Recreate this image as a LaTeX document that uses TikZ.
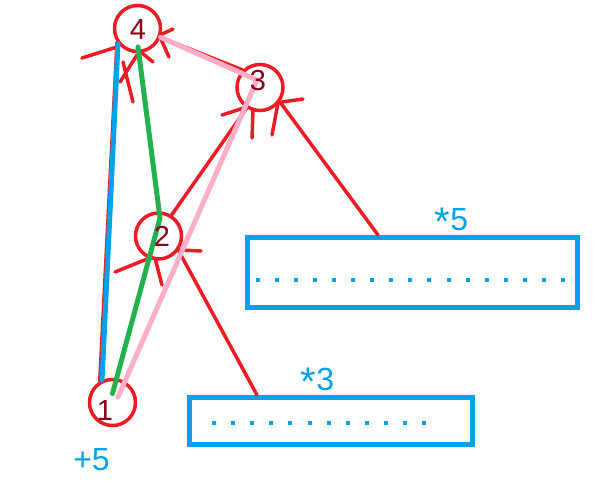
\documentclass[tikz,border=0pt]{standalone}
\usepackage{fontspec}
\setmainfont{Liberation Sans}
\usepackage{tikz}
\usetikzlibrary{positioning,calc}
\definecolor{paintred}{RGB}{237,28,36}
\definecolor{paintblue}{RGB}{0,162,232}
\definecolor{paintgreen}{RGB}{34,177,76}
\definecolor{paintpink}{RGB}{255,174,201}
\definecolor{paintmaroon}{RGB}{136,0,21}
\newcommand{\bigstar}{\raisebox{-5pt}{\fontsize{40}{40}\selectfont *}}

\begin{document}
\begin{tikzpicture}[x=1pt,y=-1pt,
    ball/.style={circle,draw=paintred,line width=3.5pt,minimum size=46pt,inner sep=0pt},
    num/.style={text=paintmaroon,font=\fontsize{29}{30}\selectfont,inner sep=0pt},
    tag/.style={text=paintblue,font=\fontsize{32}{34}\selectfont,inner sep=0pt},
    dotbox/.style={rectangle,draw=paintblue,line width=5pt,inner sep=0pt},
    link/.style={draw=paintred,line width=3.5pt,line cap=round},
    trail/.style={line width=5pt,line cap=round,line join=round},
    dotrow/.style={paintblue,line width=4pt,dash pattern=on 4pt off 15.1pt}]
    \useasboundingbox (0,0) rectangle (612,499);
    % circles and boxes
    \node[ball] (n4) at (137.5,28.5) {};
    \node[ball] (n3) at (260,87.5) {};
    \node[ball] (n2) at (158.5,236) {};
    \node[ball] (n1) at (112.5,402.5) {};
    \node[dotbox,minimum width=283pt,minimum height=47pt] (b3) at (331,421) {};
    \node[dotbox,minimum width=330pt,minimum height=70pt] (b5) at (412.5,272.5) {};
    \draw[dotrow] (212,423) -- (426.2,423);
    \draw[dotrow] (255.5,280) -- (565.1,280);
    % tree edges
    \draw[link] (n1.121) -- (n4.214);
    \draw[link] (n4.339) -- (n3.135);
    \draw[link] (n3.237) -- (n2.58);
    \draw[link] (n3.324) -- ([shift={(-34.5,0)}]b5.north);
    \draw[link] (n2.324) -- ([shift={(-74,0)}]b3.north);
    % scribbled heads
    \draw[link] (82,58) -- (117,47) (120,82) -- (137,55) (123,62) -- (133,102) (142,53) -- (153,62);
    \draw[link] (160,35) -- (173,29) (160,37) -- (169,57);
    \draw[link] (222,115) -- (247,107) (252,138) -- (253,110) (272,135) -- (278,103) (282,102) -- (303,99);
    \draw[link] (115,272) -- (152,257) (155,258) -- (162,285) (180,250) -- (201,251);
    % coloured routes
    \draw[trail,paintblue] (n1.115) -- (n4.218);
    \draw[trail,paintgreen] ([shift={(0,-9)}]n1.center) -- ([shift={(1.5,-18)}]n2.center) -- ([shift={(0.5,18.5)}]n4.center);
    \draw[trail,paintpink] ([shift={(5.5,-5.5)}]n1.center) -- ([shift={(-3,-7.5)}]n3.center) -- (n4.339);
    % labels
    \node[num] (d4) at (138,30) {4};
    \node[num] (d3) at (258,81) {3};
    \node[num] (d2) at (162,236) {2};
    \node[num] (d1) at (105,411) {1};
    \node[tag] (l3) at (317.5,381.5) {\bigstar3};
    \node[tag] (l5) at (451.5,221.5) {\bigstar5};
    \node[tag] (lp) at (91.5,460) {+5};
\end{tikzpicture}
\end{document}
